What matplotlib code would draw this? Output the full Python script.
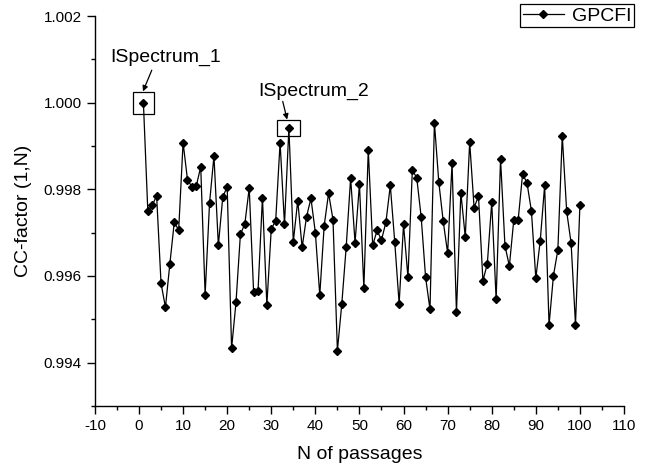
import matplotlib
matplotlib.use('Agg')
import matplotlib.pyplot as plt
from matplotlib.patches import Rectangle
from matplotlib.ticker import MultipleLocator
import numpy as np

plt.rcParams['font.family'] = ['Liberation Sans', 'DejaVu Sans']
plt.rcParams['axes.unicode_minus'] = False

# N of passages and CC-factor values
passages = list(range(1, 101))
cc_factor = [
    1.00000, 0.99750, 0.99763, 0.99785, 0.99583, 0.99528, 0.99628, 0.99724, 0.99706, 0.99908,
    0.99822, 0.99806, 0.99808, 0.99852, 0.99557, 0.99768, 0.99877, 0.99671, 0.99782, 0.99806,
    0.99433, 0.99539, 0.99696, 0.99720, 0.99803, 0.99562, 0.99566, 0.99781, 0.99533, 0.99709,
    0.99727, 0.99908, 0.99719, 0.99942, 0.99679, 0.99774, 0.99666, 0.99737, 0.99779, 0.99700,
    0.99556, 0.99716, 0.99791, 0.99730, 0.99428, 0.99536, 0.99668, 0.99826, 0.99677, 0.99812,
    0.99572, 0.99891, 0.99671, 0.99705, 0.99683, 0.99724, 0.99809, 0.99679, 0.99536, 0.99719,
    0.99597, 0.99845, 0.99826, 0.99736, 0.99597, 0.99523, 0.99954, 0.99816, 0.99726, 0.99653,
    0.99860, 0.99516, 0.99792, 0.99690, 0.99909, 0.99758, 0.99784, 0.99589, 0.99628, 0.99770,
    0.99546, 0.99870, 0.99670, 0.99623, 0.99729, 0.99730, 0.99835, 0.99815, 0.99750, 0.99595,
    0.99681, 0.99809, 0.99487, 0.99601, 0.99660, 0.99924, 0.99749, 0.99676, 0.99488, 0.99764,
]
series_name = 'GPCFI'
labelled = {'ISpectrum_1': 1, 'ISpectrum_2': 34}

fig = plt.figure(figsize=(6.5, 4.68), dpi=100)
ax = fig.add_axes([0.146, 0.1325, 0.814, 0.8333])

ax.plot(passages, cc_factor, color='black', lw=0.9, marker='D', ms=4.2,
        mfc='black', mec='black', label=series_name)

ax.set_xlim(-10, 110)
ax.set_ylim(0.993, 1.002)
ax.xaxis.set_major_locator(MultipleLocator(10))
ax.xaxis.set_minor_locator(MultipleLocator(5))
ax.yaxis.set_major_locator(MultipleLocator(0.002))
ax.yaxis.set_minor_locator(MultipleLocator(0.001))
ax.yaxis.set_major_formatter(plt.FormatStrFormatter('%.3f'))

for s in ['top', 'right']:
    ax.spines[s].set_visible(False)
for s in ['left', 'bottom']:
    ax.spines[s].set_linewidth(1.0)
ax.tick_params(which='major', direction='out', length=5.5, width=1.0, labelsize=11, pad=4)
ax.tick_params(which='minor', direction='out', length=3, width=1.0)

ax.set_xlabel('N of passages', fontsize=14, labelpad=9)
ax.set_ylabel('CC-factor (1,N)', fontsize=14, labelpad=8)

# boxes and arrows for the two labelled spectra
x1 = labelled['ISpectrum_1']
y1 = cc_factor[passages.index(x1)]
ax.add_patch(Rectangle((x1 - 2.3, y1 - 0.00026), 4.6, 0.00051,
                       fill=False, ec='black', lw=0.9))
ax.text(6.1, 1.00105, 'ISpectrum_1', fontsize=14, ha='center', va='center')
ax.annotate('', xy=(0.9, y1 + 0.00026), xytext=(2.9, 1.00075),
            arrowprops=dict(arrowstyle='-|>', color='black', lw=0.9,
                            mutation_scale=8, shrinkA=0, shrinkB=0))

x2 = labelled['ISpectrum_2']
y2 = cc_factor[passages.index(x2)]
ax.add_patch(Rectangle((x2 - 2.6, y2 - 0.00019), 5.2, 0.00037,
                       fill=False, ec='black', lw=0.9))
ax.text(39.5, 1.00027, 'ISpectrum_2', fontsize=14, ha='center', va='center')
ax.annotate('', xy=(33.6, y2 + 0.00019), xytext=(32.6, 1.00003),
            arrowprops=dict(arrowstyle='-|>', color='black', lw=0.9,
                            mutation_scale=8, shrinkA=0, shrinkB=0))

leg = ax.legend(loc='upper right', bbox_to_anchor=(634 / 650, 1 - 4 / 468),
                bbox_transform=fig.transFigure, borderaxespad=0, fontsize=14,
                fancybox=False, framealpha=1, edgecolor='black',
                handlelength=2.1, handletextpad=0.4, borderpad=0.15)
leg.get_frame().set_linewidth(0.9)

fig.savefig('out.png', dpi=100)
